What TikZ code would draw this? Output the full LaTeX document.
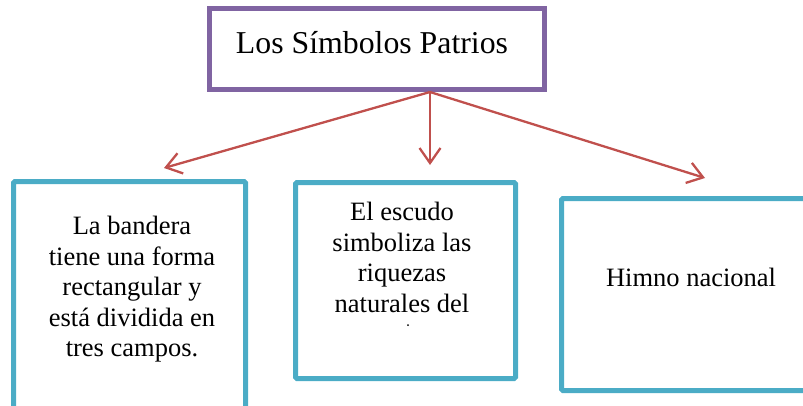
\documentclass[tikz,border=0pt]{standalone}
\usepackage{fontspec}
\setmainfont{Liberation Serif}
\usetikzlibrary{arrows.meta}
\definecolor{boxpurple}{HTML}{8064A2}
\definecolor{boxteal}{HTML}{4BACC6}
\definecolor{arrred}{HTML}{C0504D}
\begin{document}
\begin{tikzpicture}[x=1pt,y=-1pt,
  titlebox/.style={draw=boxpurple,line width=5pt},
  leafbox/.style={draw=boxteal,line width=5pt,rounded corners=1.5pt},
  leaftext/.style={inner sep=0pt,align=center,font=\fontsize{26.5}{30.5}\selectfont},
  link/.style={draw=arrred,line width=2.3pt,-{Straight Barb[length=15pt,width=21pt,line width=2.3pt]}}]
\useasboundingbox (0,0) rectangle (803,405);
\clip (0,0) rectangle (803,405);
% boxes
\draw[titlebox] (209.5,8.5) rectangle (544.5,89.5);
\node[inner sep=0pt,anchor=base,font=\fontsize{31.8}{36}\selectfont] (title) at (372,53) {Los Símbolos Patrios};
\coordinate (src) at (430,92);
\draw[leafbox] (13.5,420) -- (13.5,181.5) -- (245.5,181.5) -- (245.5,420);
\draw[leafbox] (295.5,182.5) rectangle (515.5,378.5);
\draw[leafbox] (830,198.5) -- (561.5,198.5) -- (561.5,390.5) -- (830,390.5);
% texts
\node[leaftext,anchor=north] (bandera) at (132,216) {La bandera\\tiene una forma\\rectangular y\\está dividida en\\tres campos.};
\node[leaftext,anchor=north] (escudo) at (402,202) {El escudo\\simboliza las\\riquezas\\naturales del};
\fill (408,325) circle (1pt);
\node[leaftext,anchor=base] (himno) at (691,286) {Himno nacional};
% arrow end points
\coordinate (t1) at (164,168);
\coordinate (t2) at (430,165);
\coordinate (t3) at (705,178);
\draw[link] (src) -- (t1);
\draw[link] (src) -- (t2);
\draw[link] (src) -- (t3);
\end{tikzpicture}
\end{document}
